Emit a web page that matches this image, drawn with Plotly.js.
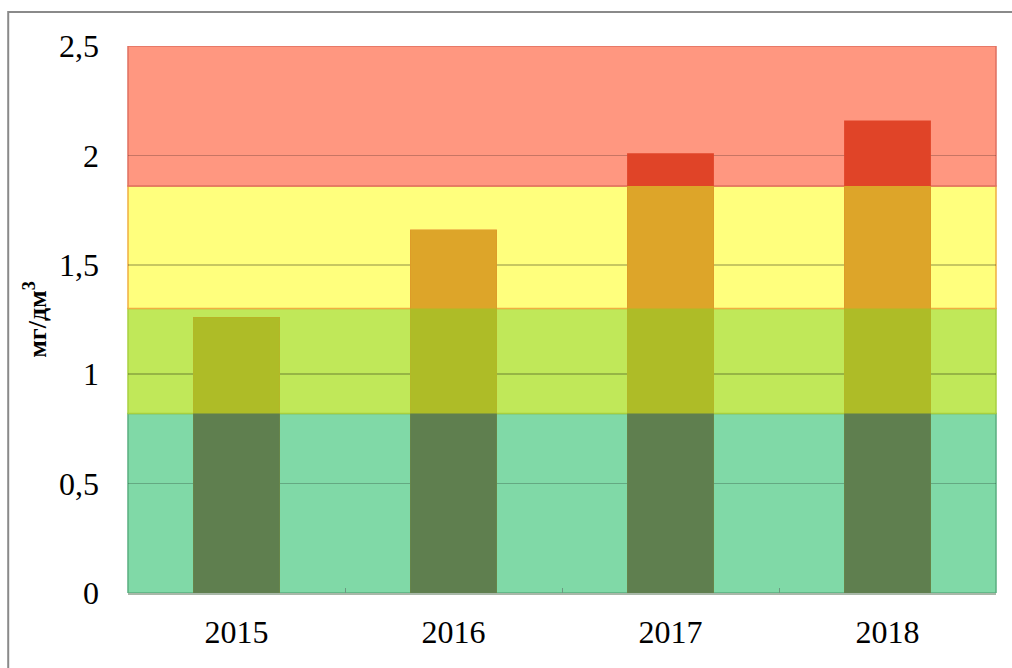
<!DOCTYPE html>
<html>
<head>
<meta charset="utf-8">
<script src="https://cdn.plot.ly/plotly-3.0.1.min.js"></script>
<style>html,body{margin:0;padding:0;background:#fff}#chart{width:1012px;height:668px}</style>
</head>
<body>
<div id="chart"></div>
<script>
// Data
const years = ['2015', '2016', '2017', '2018'];
const values = [1.26, 1.66, 2.01, 2.16];
// Quality band thresholds (mg/dm3)
const bandLimits = [0, 0.82, 1.3, 1.86, 2.5];
const bandFill = ['#80d9a7', '#c0e859', '#ffff7d', '#ff9780'];
const bandLine = ['#5aae80', '#a8d040', '#f0b040', '#e07060'];
const barColors = ['#5f7f4f', '#aebc27', '#dda529', '#e04428'];
const yTickVals = [0, 0.5, 1, 1.5, 2, 2.5];
const yTickText = ['0', '0,5', '1', '1,5', '2', '2,5'];

const serif = '"Liberation Serif", "Times New Roman", serif';

// Bars: overlaid, each segment colour limited to its band
const traces = [];
for (let i = bandLimits.length - 2; i >= 0; i--) {
  const upper = (i === bandLimits.length - 2) ? Infinity : bandLimits[i + 1];
  traces.push({
    type: 'bar',
    x: years,
    y: values.map(v => Math.min(v, upper)),
    marker: {color: barColors[i], line: {width: 0}},
    hoverinfo: 'x+y',
    showlegend: false
  });
}

const shapes = [];
for (let i = 0; i < bandFill.length; i++) {
  shapes.push({
    type: 'rect', xref: 'paper', yref: 'y', layer: 'below',
    x0: 0, x1: 1, y0: bandLimits[i], y1: bandLimits[i + 1],
    fillcolor: bandFill[i], line: {color: bandLine[i], width: 1.5}
  });
}
// outer frame
shapes.push({
  type: 'rect', xref: 'paper', yref: 'paper', layer: 'above',
  x0: -0.138, x1: 1.03, y0: -0.15, y1: 1.062,
  fillcolor: 'rgba(0,0,0,0)', line: {color: '#8a8a8a', width: 2}
});

const layout = {
  width: 1012, height: 668,
  margin: {l: 128, r: 16, t: 46, b: 75},
  paper_bgcolor: '#ffffff', plot_bgcolor: '#ffffff',
  barmode: 'overlay', bargap: 0.6,
  separators: ', ',
  font: {family: serif, color: '#000'},
  xaxis: {
    type: 'category',
    tickson: 'boundaries', ticks: 'inside', ticklen: 5, tickcolor: '#6a9a80',
    showline: true, linecolor: '#a8b8a8', linewidth: 1.5,
    showgrid: false, zeroline: false,
    tickfont: {family: serif, size: 32, color: '#000'},
    ticklabelstandoff: 10
  },
  yaxis: {
    range: [0, 2.5],
    tickvals: yTickVals, ticktext: yTickText,
    ticks: '', showline: false, zeroline: false,
    showgrid: true, gridcolor: 'rgba(0,0,0,0.22)', gridwidth: 1.5,
    tickfont: {family: serif, size: 32, color: '#000'},
    ticklabelstandoff: 28,
    title: {text: '<b>мг/дм<sup>3</sup></b>', font: {family: serif, size: 26, color: '#000'}, standoff: 4}
  },
  shapes: shapes
};

Plotly.newPlot('chart', traces, layout, {displayModeBar: false, staticPlot: true});
</script>
</body>
</html>
